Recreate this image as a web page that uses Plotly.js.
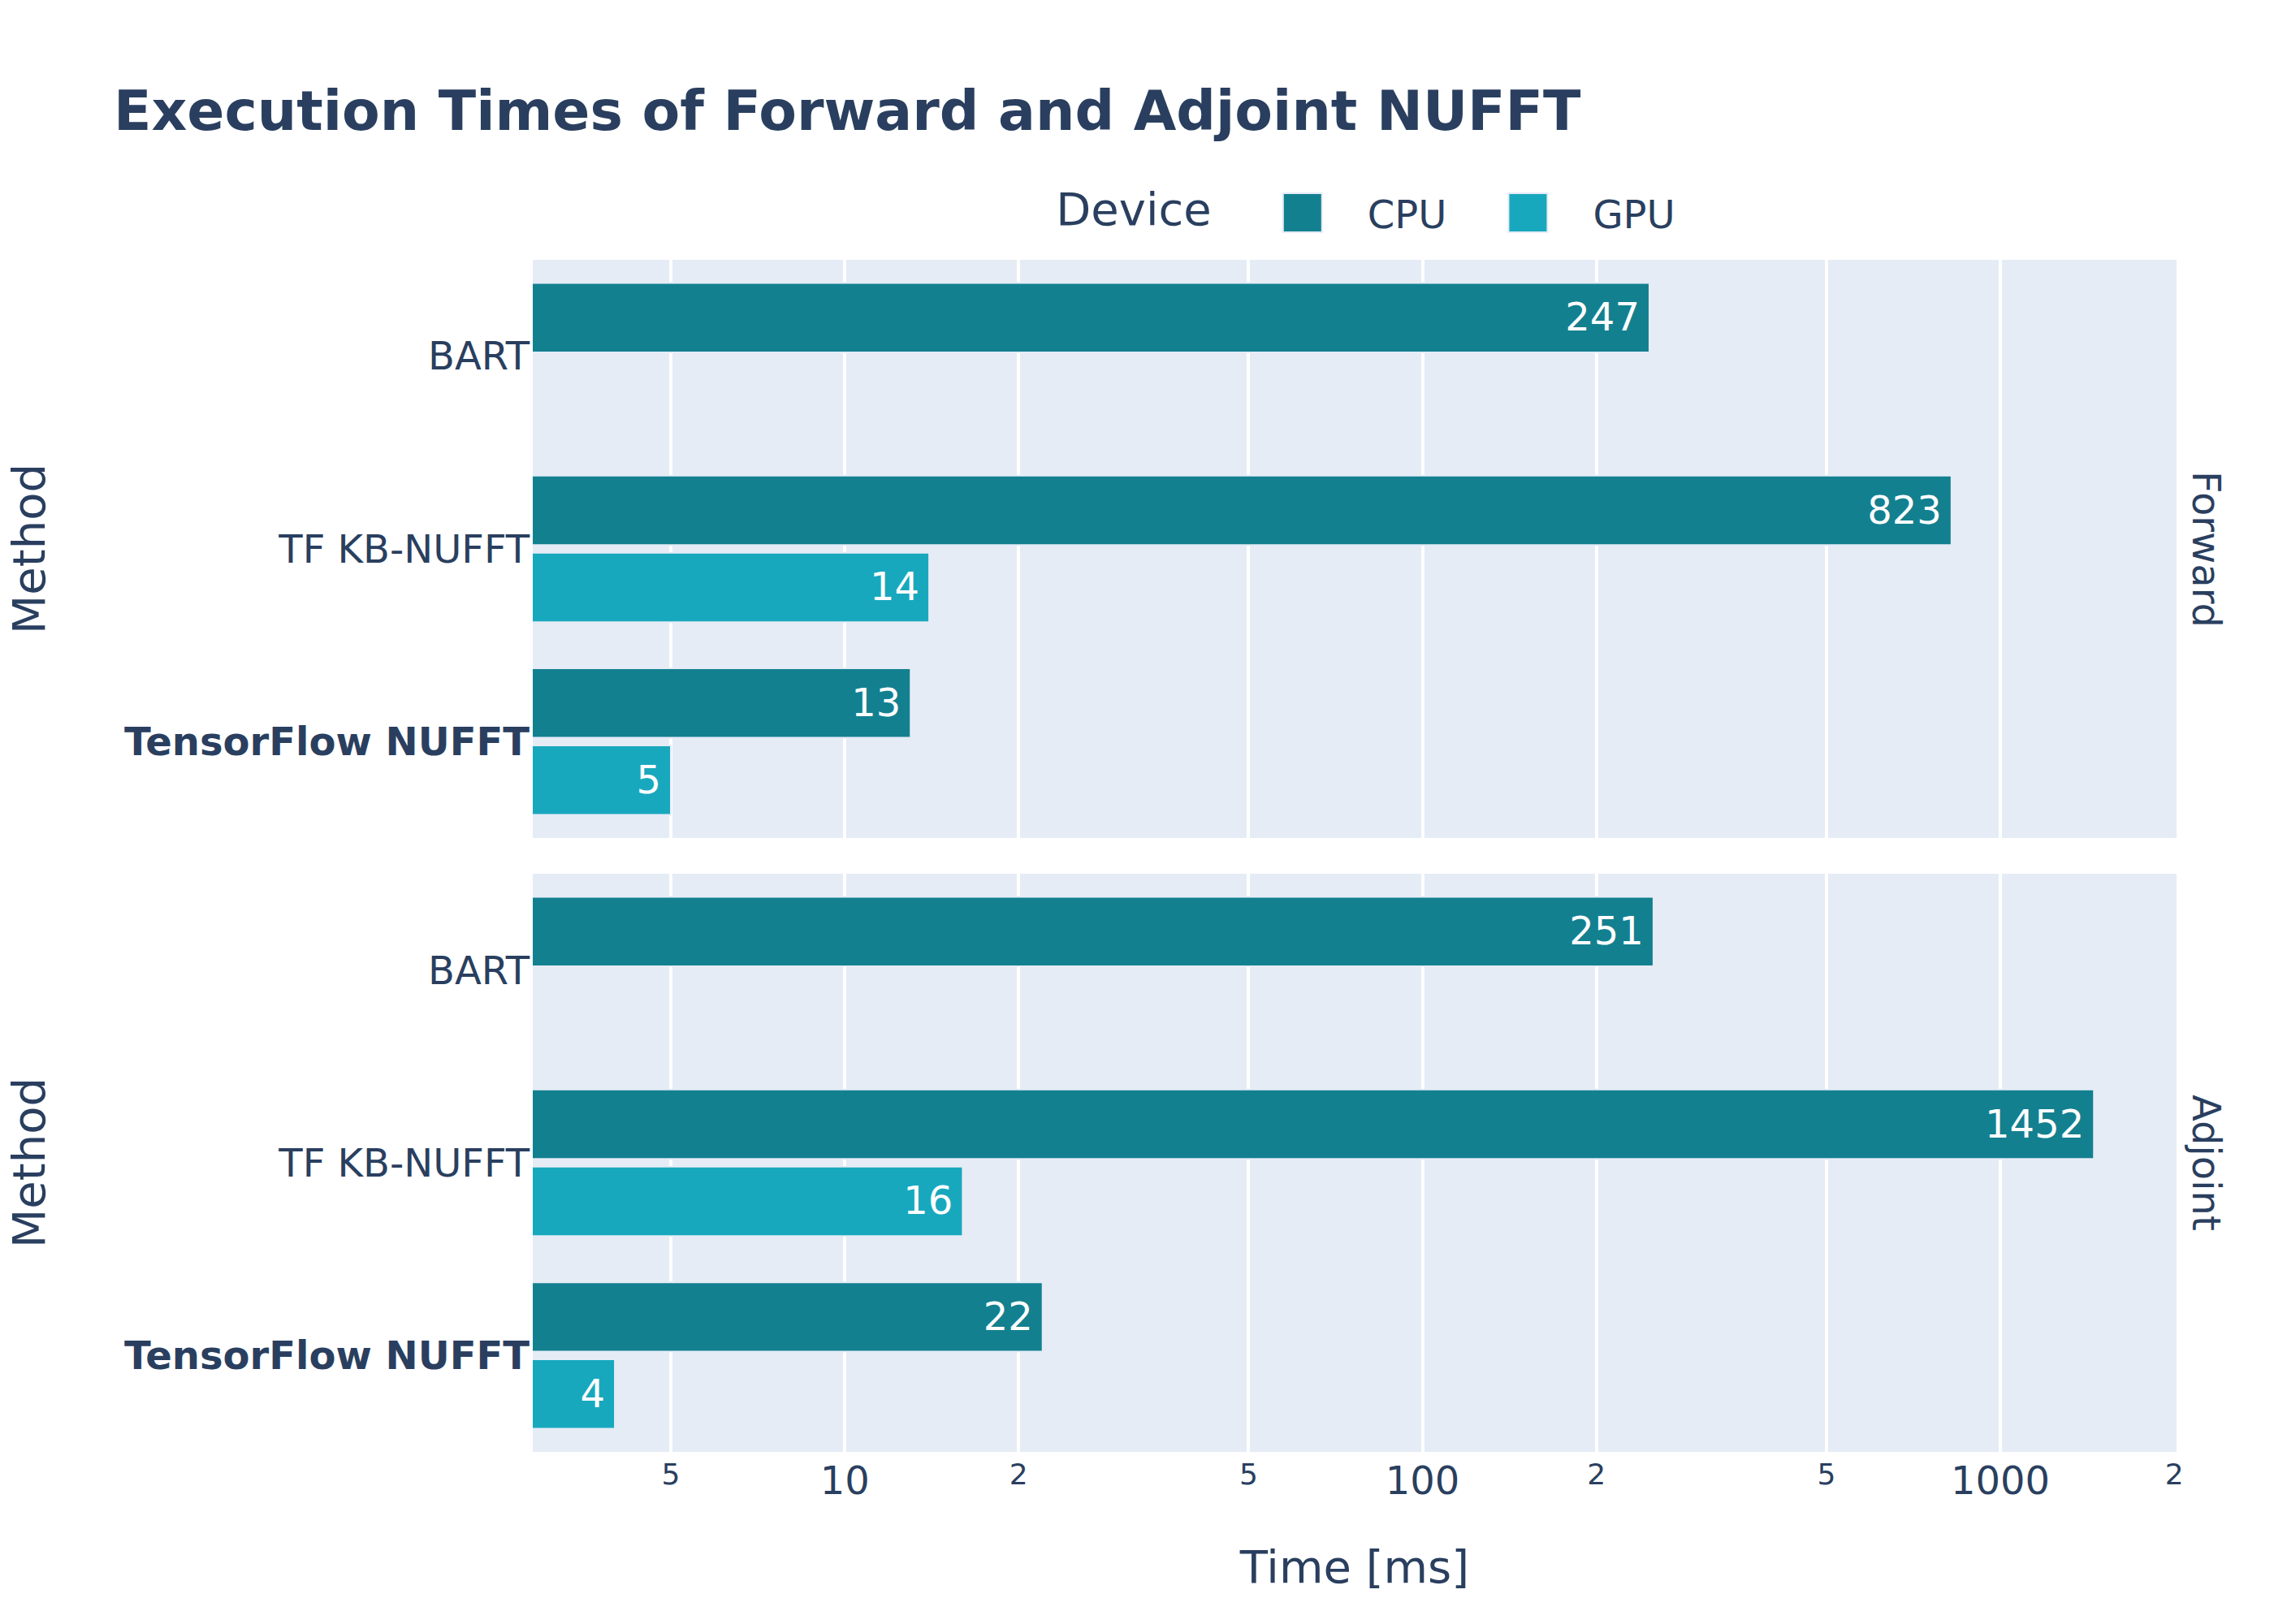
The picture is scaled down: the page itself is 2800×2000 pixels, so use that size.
<!DOCTYPE html>
<html>
<head>
<meta charset="utf-8">
<script src="https://cdn.plot.ly/plotly-3.0.1.min.js"></script>
<style>
html, body { margin: 0; padding: 0; background: #ffffff; overflow: hidden; }
#wrap { width: 2800px; height: 2000px; overflow: hidden; }
#chart { width: 700px; height: 500px; transform: scale(4); transform-origin: 0 0; }
</style>
</head>
<body>
<div id="wrap"><div id="chart"></div></div>
<script>
// ---- data ----
const methods = ['BART', 'TF KB-NUFFT', 'TensorFlow NUFFT'];
const methodLabels = ['BART', 'TF KB-NUFFT', '<b>TensorFlow NUFFT</b>'];
const operations = ['Forward', 'Adjoint'];
const devices = ['CPU', 'GPU'];
const deviceColors = ['#138090', '#18A8BE'];
const forwardCPU = [247, 823, 13];
const forwardGPU = [null, 14, 5];
const adjointCPU = [251, 1452, 22];
const adjointGPU = [null, 16, 4];

const valuesByOp = {
  Forward: { CPU: forwardCPU, GPU: forwardGPU },
  Adjoint: { CPU: adjointCPU, GPU: adjointGPU }
};

// top panel = Forward (x2/y2), bottom panel = Adjoint (x/y)
const axesByOp = { Forward: ['x2', 'y2'], Adjoint: ['x', 'y'] };

const traces = [];
devices.forEach(function (dev, di) {
  operations.forEach(function (op, oi) {
    const vals = valuesByOp[op][dev];
    const ys = [], xs = [];
    vals.forEach(function (v, i) {
      if (v !== null) { ys.push(methods[i]); xs.push(v); }
    });
    traces.push({
      type: 'bar',
      orientation: 'h',
      name: dev,
      legendgroup: dev,
      showlegend: oi === 0,
      x: xs,
      y: ys,
      text: xs.map(String),
      textposition: 'auto',
      insidetextfont: { color: '#ffffff' },
      marker: { color: deviceColors[di], line: { color: '#E5ECF6', width: 0.5 } },
      xaxis: axesByOp[op][0],
      yaxis: axesByOp[op][1]
    });
  });
});

const fontColor = '#2a3f5f';
const xRange = [0.46, 3.305];

const yCommon = {
  type: 'category',
  categoryorder: 'array',
  categoryarray: methods,
  tickvals: methods,
  ticktext: methodLabels,
  autorange: 'reversed',
  showgrid: false,
  zeroline: false,
  ticks: '',
  title: { text: 'Method', font: { size: 14 }, standoff: 20 }
};

const layout = {
  width: 700,
  height: 500,
  font: { family: 'DejaVu Sans, Verdana, sans-serif', size: 12, color: fontColor },
  paper_bgcolor: '#ffffff',
  plot_bgcolor: '#E5ECF6',
  margin: { l: 164, r: 30, t: 80, b: 53 },
  title: {
    text: '<b>Execution Times of Forward and Adjoint NUFFT</b>',
    font: { size: 17, color: fontColor },
    x: 0.05, xanchor: 'left'
  },
  barmode: 'group',
  bargap: 0.2,
  bargroupgap: 0.1,
  legend: {
    orientation: 'h',
    x: 0.51, xanchor: 'center',
    y: 1.0, yanchor: 'bottom',
    title: { text: 'Device', font: { size: 14 } },
    font: { size: 12 }
  },
  xaxis: {
    type: 'log', range: xRange, dtick: 'D2',
    anchor: 'y', domain: [0, 1],
    gridcolor: '#ffffff', gridwidth: 1, zeroline: false, ticks: '',
    title: { text: 'Time [ms]', font: { size: 14 }, standoff: 15 }
  },
  xaxis2: {
    type: 'log', range: xRange, dtick: 'D2',
    anchor: 'y2', domain: [0, 1], matches: 'x',
    showticklabels: false,
    gridcolor: '#ffffff', gridwidth: 1, zeroline: false, ticks: ''
  },
  yaxis: Object.assign({}, yCommon, { domain: [0, 0.485], anchor: 'x' }),
  yaxis2: Object.assign({}, yCommon, { domain: [0.515, 1], anchor: 'x2' }),
  annotations: [
    { text: operations[0], xref: 'paper', yref: 'paper', x: 1, y: 0.7575,
      xanchor: 'left', yanchor: 'middle', textangle: 90, showarrow: false,
      font: { size: 12, color: fontColor } },
    { text: operations[1], xref: 'paper', yref: 'paper', x: 1, y: 0.2425,
      xanchor: 'left', yanchor: 'middle', textangle: 90, showarrow: false,
      font: { size: 12, color: fontColor } }
  ]
};

Plotly.newPlot('chart', traces, layout, { displayModeBar: false, staticPlot: true });
</script>
</body>
</html>
